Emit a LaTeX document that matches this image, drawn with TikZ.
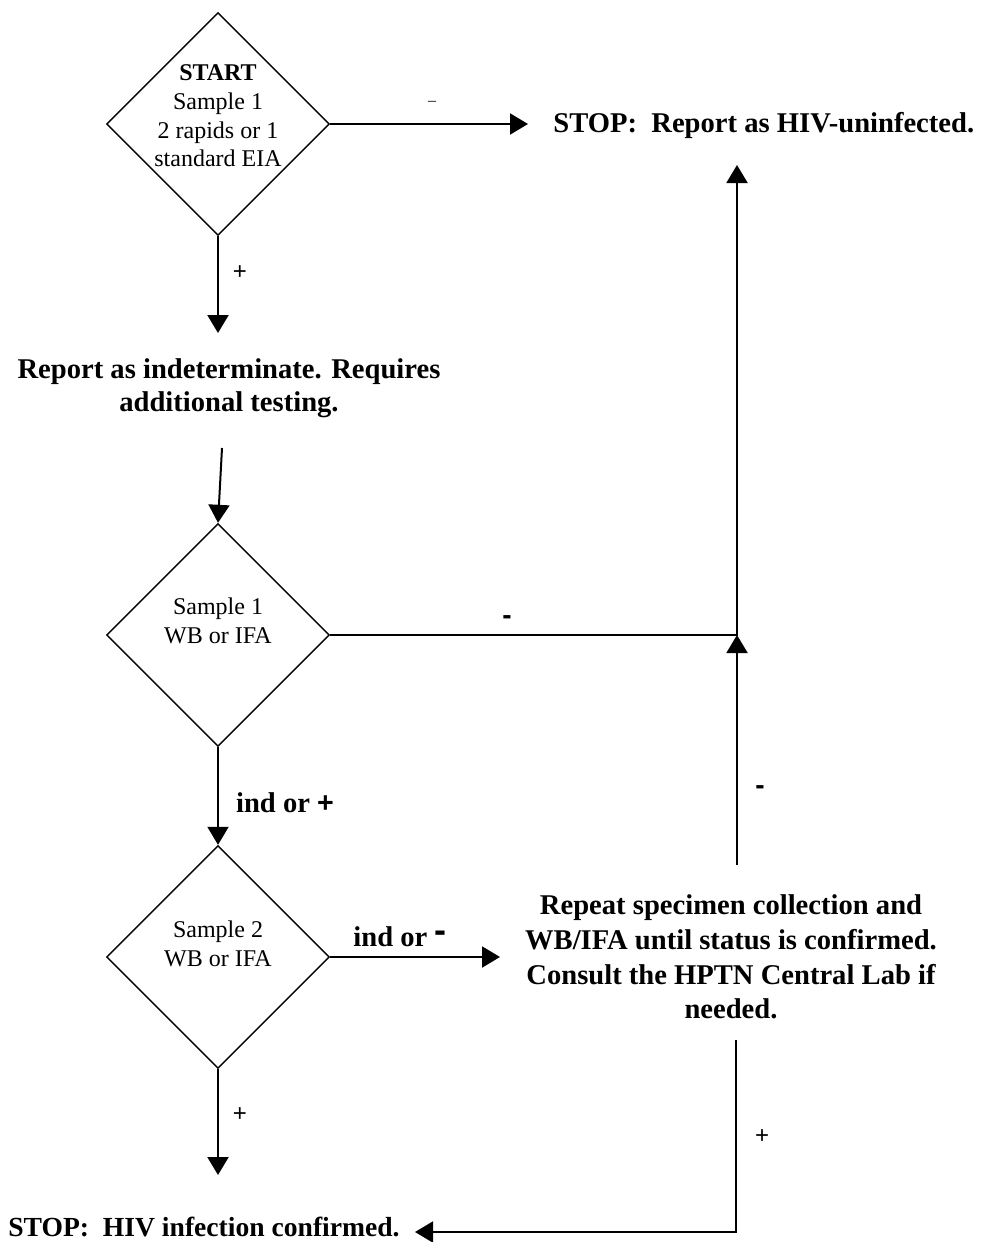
\documentclass[tikz,border=0pt]{standalone}
\usepackage{fontspec}
\setmainfont{Liberation Serif}
\newfontfamily\arialfont{Liberation Sans}
\usetikzlibrary{shapes.geometric, arrows.meta}

\begin{document}
\begin{tikzpicture}[x=0.5pt, y=-0.5pt,
test/.style={diamond, draw, line width=0.7pt, minimum width=111.5pt, minimum height=111.5pt, inner sep=0pt},
testtext/.style={align=center, font=\fontsize{12}{14.3}\selectfont, inner sep=0pt},
report/.style={align=center, font=\bfseries\fontsize{14.3}{17.4}\selectfont, inner sep=0pt},
sign/.style={font=\arialfont\fontsize{12}{12}\selectfont, inner sep=0pt},
bsign/.style={font=\arialfont\bfseries\fontsize{14}{14}\selectfont, inner sep=0pt},
link/.style={line width=1pt, -{Triangle[length=9pt,width=10.5pt]}}]
\useasboundingbox (0,0) rectangle (990,1242);

% first test
\node[test] (d1) at (218,124) {};
\node[testtext] (d1t) at (218,116) {\textbf{START}\\Sample 1\\2 rapids or 1\\standard EIA};
\node[report, anchor=west] (stop1) at (553,125) {STOP:~~Report as HIV-uninfected.};
\coordinate (s1) at (528,124);
\draw[link] (d1.east) -- (s1);
\node[font=\fontsize{8}{8}\selectfont, inner sep=0pt] (m1) at (432,103) {--};

\node[report, font=\bfseries\fontsize{14.3}{16.5}\selectfont] (indet) at (229,388) {Report as indeterminate. Requires\\additional testing.};
\coordinate (p1) at (218,333);
\draw[link] (d1.south) -- (p1);
\node[sign] (p1l) at (240,273) {+};

% second test
\node[test] (d2) at (218,635) {};
\node[testtext] (d2t) at (218,621) {Sample 1\\WB or IFA};
\coordinate (q1) at (222,448);
\draw[link] (q1) -- (d2.north);
\coordinate (j1) at (737,635);
\coordinate (s2) at (737,165);
\draw[link] (d2.east) -- (j1) -- (s2);
\node[bsign] (m2) at (507,620) {-};
\node[report] (ind1) at (285,803) {ind or {\arialfont +}};

% third test
\node[test] (d3) at (218,957) {};
\node[testtext] (d3t) at (218,944) {Sample 2\\WB or IFA};
\draw[link] (d2.south) -- (d3.north);
\node[report] (rep) at (731,957) {Repeat specimen collection and\\WB/IFA until status is confirmed.\\Consult the HPTN Central Lab if\\needed.};
\coordinate (r1) at (500,957);
\draw[link] (d3.east) -- (r1);
\node[report] (ind2) at (400,937) {ind or \raisebox{2pt}{\arialfont\fontsize{18}{18}\selectfont -}};
\coordinate (r2) at (737,865);
\draw[link] (r2) -- (j1);
\node[bsign] (m3) at (760,790) {-};

% result
\node[report, font=\bfseries\fontsize{13.8}{16}\selectfont, anchor=west] (stop2) at (8,1227) {STOP:~~HIV infection confirmed.};
\coordinate (b1) at (218,1175);
\draw[link] (d3.south) -- (b1);
\node[sign] (p2l) at (240,1115) {+};
\coordinate (r3) at (736,1040);
\coordinate (b2) at (736,1232);
\coordinate (b3) at (415,1232);
\draw[link] (r3) -- (b2) -- (b3);
\node[sign] (p3l) at (762,1137) {+};
\end{tikzpicture}
\end{document}
